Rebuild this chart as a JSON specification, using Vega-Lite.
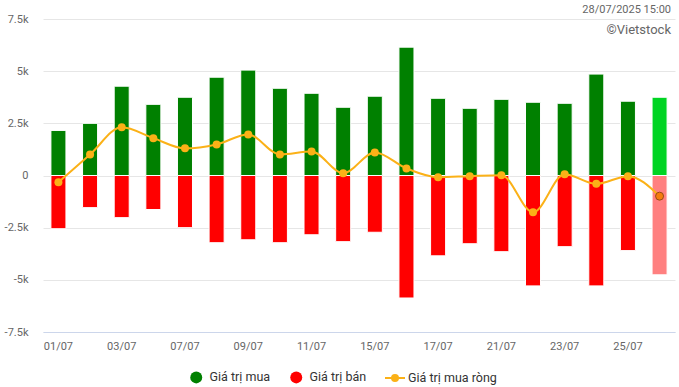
{
  "$schema": "https://vega.github.io/schema/vega-lite/v6.json",
  "width": 632,
  "height": 313,
  "autosize": {"type": "none"},
  "padding": {"left": 43, "top": 19, "right": 4, "bottom": 55},
  "background": "white",
  "title": {
    "text": "28/07/2025 15:00",
    "subtitle": "©Vietstock",
    "anchor": "end",
    "orient": "top",
    "offset": -24,
    "dx": -4,
    "font": "Roboto",
    "fontSize": 11,
    "fontWeight": "normal",
    "color": "#666666",
    "subtitleFont": "Roboto",
    "subtitleFontSize": 13,
    "subtitleColor": "#666666",
    "subtitlePadding": 9
  },
  "data": {
    "values": [
      {"date": "01/07", "series": "Giá trị mua", "value": 2160},
      {"date": "01/07", "series": "Giá trị bán", "value": -2550},
      {"date": "01/07", "series": "Giá trị mua ròng", "value": -320},
      {"date": "02/07", "series": "Giá trị mua", "value": 2500},
      {"date": "02/07", "series": "Giá trị bán", "value": -1540},
      {"date": "02/07", "series": "Giá trị mua ròng", "value": 1010},
      {"date": "03/07", "series": "Giá trị mua", "value": 4280},
      {"date": "03/07", "series": "Giá trị bán", "value": -2020},
      {"date": "03/07", "series": "Giá trị mua ròng", "value": 2310},
      {"date": "04/07", "series": "Giá trị mua", "value": 3410},
      {"date": "04/07", "series": "Giá trị bán", "value": -1630},
      {"date": "04/07", "series": "Giá trị mua ròng", "value": 1790},
      {"date": "07/07", "series": "Giá trị mua", "value": 3750},
      {"date": "07/07", "series": "Giá trị bán", "value": -2500},
      {"date": "07/07", "series": "Giá trị mua ròng", "value": 1300},
      {"date": "08/07", "series": "Giá trị mua", "value": 4710},
      {"date": "08/07", "series": "Giá trị bán", "value": -3220},
      {"date": "08/07", "series": "Giá trị mua ròng", "value": 1490},
      {"date": "09/07", "series": "Giá trị mua", "value": 5050},
      {"date": "09/07", "series": "Giá trị bán", "value": -3080},
      {"date": "09/07", "series": "Giá trị mua ròng", "value": 1970},
      {"date": "10/07", "series": "Giá trị mua", "value": 4180},
      {"date": "10/07", "series": "Giá trị bán", "value": -3220},
      {"date": "10/07", "series": "Giá trị mua ròng", "value": 1010},
      {"date": "11/07", "series": "Giá trị mua", "value": 3940},
      {"date": "11/07", "series": "Giá trị bán", "value": -2840},
      {"date": "11/07", "series": "Giá trị mua ròng", "value": 1150},
      {"date": "14/07", "series": "Giá trị mua", "value": 3270},
      {"date": "14/07", "series": "Giá trị bán", "value": -3170},
      {"date": "14/07", "series": "Giá trị mua ròng", "value": 110},
      {"date": "15/07", "series": "Giá trị mua", "value": 3800},
      {"date": "15/07", "series": "Giá trị bán", "value": -2720},
      {"date": "15/07", "series": "Giá trị mua ròng", "value": 1100},
      {"date": "16/07", "series": "Giá trị mua", "value": 6150},
      {"date": "16/07", "series": "Giá trị bán", "value": -5870},
      {"date": "16/07", "series": "Giá trị mua ròng", "value": 340},
      {"date": "17/07", "series": "Giá trị mua", "value": 3700},
      {"date": "17/07", "series": "Giá trị bán", "value": -3850},
      {"date": "17/07", "series": "Giá trị mua ròng", "value": -80},
      {"date": "18/07", "series": "Giá trị mua", "value": 3220},
      {"date": "18/07", "series": "Giá trị bán", "value": -3270},
      {"date": "18/07", "series": "Giá trị mua ròng", "value": -30},
      {"date": "21/07", "series": "Giá trị mua", "value": 3650},
      {"date": "21/07", "series": "Giá trị bán", "value": -3650},
      {"date": "21/07", "series": "Giá trị mua ròng", "value": 10},
      {"date": "22/07", "series": "Giá trị mua", "value": 3510},
      {"date": "22/07", "series": "Giá trị bán", "value": -5290},
      {"date": "22/07", "series": "Giá trị mua ròng", "value": -1760},
      {"date": "23/07", "series": "Giá trị mua", "value": 3460},
      {"date": "23/07", "series": "Giá trị bán", "value": -3410},
      {"date": "23/07", "series": "Giá trị mua ròng", "value": 60},
      {"date": "24/07", "series": "Giá trị mua", "value": 4860},
      {"date": "24/07", "series": "Giá trị bán", "value": -5290},
      {"date": "24/07", "series": "Giá trị mua ròng", "value": -400},
      {"date": "25/07", "series": "Giá trị mua", "value": 3560},
      {"date": "25/07", "series": "Giá trị bán", "value": -3600},
      {"date": "25/07", "series": "Giá trị mua ròng", "value": -30},
      {"date": "28/07", "series": "Giá trị mua", "value": 3750},
      {"date": "28/07", "series": "Giá trị bán", "value": -4760},
      {"date": "28/07", "series": "Giá trị mua ròng", "value": -990}
    ]
  },
  "encoding": {
    "x": {
      "field": "date",
      "type": "ordinal",
      "sort": null,
      "scale": {"paddingInner": 0.525, "paddingOuter": 0.25},
      "axis": {
        "title": null,
        "labelAngle": 0,
        "values": ["01/07", "03/07", "07/07", "09/07", "11/07", "15/07", "17/07", "21/07", "23/07", "25/07"],
        "domainColor": "#ccd6eb",
        "ticks": false,
        "grid": false,
        "labelColor": "#666666",
        "labelFont": "Roboto",
        "labelFontSize": 11,
        "labelPadding": 8
      }
    },
    "y": {
      "field": "value",
      "type": "quantitative",
      "stack": null,
      "scale": {"domain": [-7500, 7500], "nice": false},
      "axis": {
        "title": null,
        "values": [-7500, -5000, -2500, 0, 2500, 5000, 7500],
        "labelExpr": "datum.value == 0 ? '0' : (datum.value / 1000) + 'k'",
        "domain": false,
        "ticks": false,
        "gridColor": "#e6e6e6",
        "labelColor": "#666666",
        "labelFont": "Roboto",
        "labelFontSize": 11,
        "labelPadding": 15
      }
    }
  },
  "layer": [
    {
      "transform": [{"filter": "datum.series != 'Giá trị mua ròng'"}],
      "mark": {"type": "bar", "stroke": "white", "strokeWidth": 1},
      "encoding": {
        "fill": {
          "field": "series",
          "type": "nominal",
          "scale": {
            "domain": ["Giá trị mua", "Giá trị bán"],
            "range": ["#008000", "#ff0000"]
          },
          "condition": [
            {"test": "datum.date == '28/07' && datum.series == 'Giá trị mua'", "value": "#00d423"},
            {"test": "datum.date == '28/07' && datum.series == 'Giá trị bán'", "value": "#ff8080"}
          ],
          "legend": {
            "title": null,
            "orient": "none",
            "direction": "horizontal",
            "legendX": 147,
            "legendY": 352,
            "labelFont": "Roboto",
            "labelFontSize": 12.5,
            "labelColor": "#333333",
            "symbolType": "circle",
            "symbolSize": 144,
            "symbolStrokeWidth": 0,
            "symbolOpacity": 1,
            "labelOffset": 7,
            "columnPadding": 19
          }
        }
      }
    },
    {
      "transform": [{"filter": "datum.series == 'Giá trị mua ròng'"}],
      "mark": {"type": "line", "interpolate": "monotone", "strokeWidth": 2},
      "encoding": {
        "stroke": {
          "field": "series",
          "type": "nominal",
          "scale": {"domain": ["Giá trị mua ròng"], "range": ["#fbb117"]},
          "legend": {
            "title": null,
            "orient": "none",
            "direction": "horizontal",
            "legendX": 341,
            "legendY": 348,
            "labelFont": "Roboto",
            "labelFontSize": 12.5,
            "labelColor": "#333333",
            "symbolType": "M-1,0L1,0M-0.3,0A0.3,0.3,0,1,1,0.3,0A0.3,0.3,0,1,1,-0.3,0Z",
            "symbolSize": 400,
            "symbolStrokeWidth": 2,
            "symbolFillColor": "#fbb117",
            "symbolOpacity": 1,
            "labelOffset": 2
          }
        }
      }
    },
    {
      "transform": [{"filter": "datum.series == 'Giá trị mua ròng'"}],
      "mark": {"type": "point", "filled": true, "size": 64, "opacity": 1, "strokeWidth": 1},
      "encoding": {
        "fill": {
          "condition": {"test": "datum.date == '28/07'", "value": "#f57c0c"},
          "value": "#fbb117"
        },
        "stroke": {
          "condition": {"test": "datum.date == '28/07'", "value": "#9a4a14"},
          "value": "transparent"
        }
      }
    }
  ],
  "resolve": {"legend": {"fill": "independent", "stroke": "independent"}},
  "config": {
    "view": {"stroke": null},
    "font": "Roboto"
  }
}
